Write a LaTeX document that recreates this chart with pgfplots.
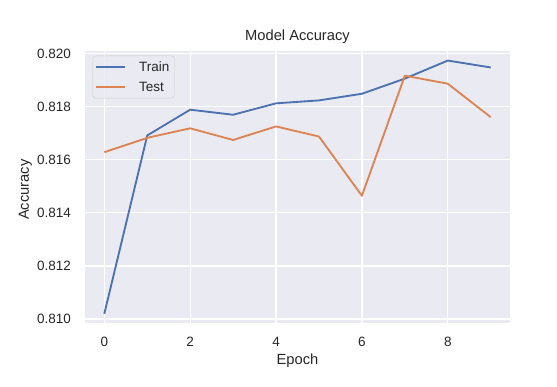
\documentclass[border=0pt]{standalone}
\usepackage{pgfplots}
\pgfplotsset{compat=1.18}
\usepackage{fontspec}
\setmainfont{Liberation Sans}
\definecolor{sbblue}{HTML}{4C72B0}
\definecolor{sborange}{HTML}{DD8452}
\definecolor{sbbg}{HTML}{EAEAF2}
\definecolor{sbtext}{HTML}{262626}
\begin{document}
\begin{tikzpicture}[x=1bp,y=1bp]
\useasboundingbox (0,0) rectangle (557,386);
\begin{axis}[
  at={(85bp,63bp)}, anchor=south west,
  scale only axis, width=425bp, height=272bp,
  xmin=-0.45, xmax=9.45, ymin=0.80985, ymax=0.82009,
  xtick={0,2,4,6,8},
  ytick={0.810,0.812,0.814,0.816,0.818,0.820},
  yticklabels={0.810,0.812,0.814,0.816,0.818,0.820},
  /pgf/number format/assume math mode=true,
  major tick length=0pt,
  tick style={draw=none},
  axis line style={draw=none},
  axis background/.style={fill=sbbg},
  grid=major,
  major grid style={white, line width=1.3bp},
  ticklabel style={font=\fontsize{13.5bp}{16bp}\selectfont, text=sbtext},
  yticklabel style={anchor=east, inner sep=0pt, xshift=-14bp},
  xticklabel style={anchor=north, inner sep=0pt, yshift=-14.3bp},
  title={Model Accuracy},
  every axis title shift=0pt,
  title style={at={(axis description cs:0.5,1.038)}, anchor=base, inner sep=0pt, yshift=0pt,
    font=\fontsize{14.7bp}{17bp}\selectfont, text=sbtext},
  xlabel={Epoch},
  xlabel style={at={(axis description cs:0.5,-0.114)}, anchor=north, inner sep=0pt,
    font=\fontsize{14.7bp}{17bp}\selectfont, text=sbtext},
  ylabel={Accuracy},
  ylabel style={at={(axis description cs:-0.1318,0.49)}, anchor=base, inner sep=0pt,
    font=\fontsize{14.7bp}{17bp}\selectfont, text=sbtext},
  legend style={at={(axis description cs:0.018,0.983)}, anchor=north west,
    draw=black!20, fill=sbbg, fill opacity=0.8, text opacity=1,
    rounded corners=3bp, font=\fontsize{13.5bp}{16bp}\selectfont, text=sbtext,
    inner xsep=2bp, inner ysep=2bp, row sep=2.2bp, /tikz/column sep=10.5bp,
    nodes={inner xsep=3bp, inner ysep=3.5bp}},
  legend cell align=left,
  legend image code/.code={\draw[#1, line width=1.85bp] (0bp,0bp) -- (29bp,0bp);},
  every axis plot/.append style={line width=1.85bp, line join=round},
]
\addplot[sbblue] coordinates {
(0,0.81020) (1,0.81691) (2,0.81788) (3,0.81769) (4,0.81812)
(5,0.81823) (6,0.81848) (7,0.81905) (8,0.81973) (9,0.81947)};
\addlegendentry{Train}
\addplot[sborange] coordinates {
(0,0.81628) (1,0.81682) (2,0.81718) (3,0.81674) (4,0.81725)
(5,0.81687) (6,0.81464) (7,0.81916) (8,0.81886) (9,0.81760)};
\addlegendentry{Test}
\end{axis}
\end{tikzpicture}
\end{document}
